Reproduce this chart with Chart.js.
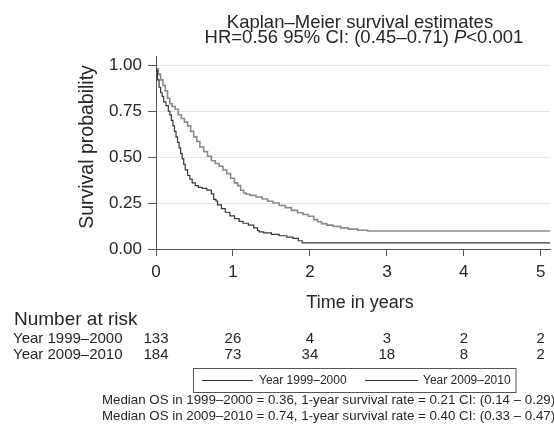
<!DOCTYPE html>
<html>
<head>
<meta charset="utf-8">
<script src="https://cdn.jsdelivr.net/npm/chart.js@4/dist/chart.umd.min.js"></script>
<style>
  body { margin: 0; background: #fff; }
  canvas { display: block; }
</style>
</head>
<body>
<canvas id="kmChart" width="554" height="425"></canvas>
<script>
// survival curves (time in years, survival probability)
const oldYears = [0, 0.02, 0.04, 0.06, 0.08, 0.10, 0.13, 0.16, 0.18, 0.20, 0.22, 0.24, 0.26, 0.28, 0.30, 0.32, 0.34, 0.36, 0.38, 0.41, 0.44, 0.47, 0.51, 0.55, 0.60, 0.66, 0.72, 0.75, 0.78, 0.80, 0.85, 0.90, 0.96, 1.02, 1.08, 1.13, 1.20, 1.27, 1.32, 1.34, 1.40, 1.50, 1.60, 1.70, 1.78, 1.85, 1.90, 1.94, 5.12];
const oldSurv = [1.0, 0.97, 0.92, 0.88, 0.85, 0.83, 0.80, 0.78, 0.75, 0.73, 0.70, 0.67, 0.64, 0.61, 0.58, 0.55, 0.52, 0.49, 0.46, 0.43, 0.40, 0.38, 0.36, 0.345, 0.335, 0.33, 0.32, 0.30, 0.27, 0.26, 0.24, 0.22, 0.20, 0.18, 0.165, 0.15, 0.14, 0.13, 0.115, 0.10, 0.093, 0.088, 0.08, 0.072, 0.065, 0.058, 0.045, 0.033, 0.033];

const newYears = [0, 0.03, 0.06, 0.09, 0.12, 0.15, 0.18, 0.21, 0.25, 0.29, 0.33, 0.37, 0.41, 0.45, 0.49, 0.53, 0.57, 0.62, 0.67, 0.72, 0.77, 0.82, 0.87, 0.92, 0.97, 1.02, 1.06, 1.10, 1.14, 1.17, 1.22, 1.30, 1.38, 1.45, 1.52, 1.60, 1.68, 1.76, 1.84, 1.91, 1.98, 2.05, 2.10, 2.15, 2.22, 2.30, 2.40, 2.50, 2.62, 2.75, 2.95, 5.12];
const newSurv = [1.0, 0.98, 0.95, 0.92, 0.89, 0.86, 0.82, 0.79, 0.775, 0.76, 0.73, 0.71, 0.69, 0.67, 0.64, 0.61, 0.585, 0.555, 0.53, 0.505, 0.48, 0.465, 0.45, 0.43, 0.41, 0.385, 0.36, 0.345, 0.32, 0.305, 0.298, 0.292, 0.283, 0.272, 0.26, 0.25, 0.237, 0.225, 0.21, 0.197, 0.188, 0.178, 0.16, 0.148, 0.138, 0.13, 0.123, 0.115, 0.108, 0.102, 0.098, 0.098];

const xTickValues = [0, 1, 2, 3, 4, 5];
const yTickValues = [0, 0.25, 0.5, 0.75, 1];

const groupNames = ["Year 1999–2000", "Year 2009–2010"];
const riskYears = [0, 1, 2, 3, 4, 5];
const atRiskOld = [133, 26, 4, 3, 2, 2];
const atRiskNew = [184, 73, 34, 18, 8, 2];

const titleLine1 = "Kaplan–Meier survival estimates";
const titleLine2 = ["HR=0.56 95% CI: (0.45–0.71) ", "P", "<0.001"];
const footerLines = [
    "Median OS in 1999–2000 = 0.36, 1-year survival rate = 0.21 CI: (0.14 – 0.29)",
    "Median OS in 2009–2010 = 0.74, 1-year survival rate = 0.40 CI: (0.33 – 0.47)"
];

const textColor = "#262626";
const axisColor = "#555";

const toPoints = function (xs, ys) {
    return xs.map((x, i) => ({ x: x, y: ys[i] }));
};

const font = function (size, style) {
    return (style || "") + " " + size + "px 'Liberation Sans', Arial, sans-serif";
};

const extras = {
    id: "extras",
    afterDraw(chart) {
        const ctx = chart.ctx;
        const xScale = chart.scales.x;
        ctx.save();
        ctx.fillStyle = textColor;
        ctx.textBaseline = "alphabetic";

        // title
        ctx.font = font(18.5);
        ctx.textAlign = "center";
        ctx.fillText(titleLine1, 360, 28);
        ctx.textAlign = "left";
        const w0 = ctx.measureText(titleLine2[0]).width;
        const w2 = ctx.measureText(titleLine2[2]).width;
        ctx.font = font(18.5, "italic");
        const w1 = ctx.measureText(titleLine2[1]).width;
        let x = 364 - (w0 + w1 + w2) / 2;
        ctx.font = font(18.5);
        ctx.fillText(titleLine2[0], x, 43);
        x += w0;
        ctx.font = font(18.5, "italic");
        ctx.fillText(titleLine2[1], x, 43);
        x += w1;
        ctx.font = font(18.5);
        ctx.fillText(titleLine2[2], x, 43);

        // y axis title
        ctx.save();
        ctx.translate(93, 147);
        ctx.rotate(-Math.PI / 2);
        ctx.textAlign = "center";
        ctx.font = font(19.5);
        ctx.fillText("Survival probability", 0, 0);
        ctx.restore();

        // x axis title
        ctx.textAlign = "center";
        ctx.font = font(18);
        ctx.fillText("Time in years", 360, 308);

        // number at risk table
        ctx.textAlign = "left";
        ctx.font = font(19);
        ctx.fillText("Number at risk", 14, 325);
        ctx.font = font(15);
        ctx.fillText(groupNames[0], 13, 343);
        ctx.fillText(groupNames[1], 13, 359);
        ctx.textAlign = "center";
        riskYears.forEach((yr, i) => {
            const px = xScale.getPixelForValue(yr);
            ctx.fillText(String(atRiskOld[i]), px, 343);
            ctx.fillText(String(atRiskNew[i]), px, 359);
        });

        // legend
        ctx.strokeStyle = axisColor;
        ctx.lineWidth = 1;
        ctx.strokeRect(193.5, 368.5, 322.5, 24);
        ctx.strokeStyle = "#333";
        ctx.beginPath();
        ctx.moveTo(202, 380.5);
        ctx.lineTo(253, 380.5);
        ctx.moveTo(365, 380.5);
        ctx.lineTo(418, 380.5);
        ctx.stroke();
        ctx.textAlign = "left";
        ctx.textBaseline = "middle";
        ctx.font = font(12);
        ctx.fillText(groupNames[0], 259, 381);
        ctx.fillText(groupNames[1], 423, 381);

        // footer
        ctx.textBaseline = "alphabetic";
        ctx.font = font(13.3);
        ctx.fillText(footerLines[0], 102, 404);
        ctx.fillText(footerLines[1], 102, 420);

        ctx.restore();
    }
};

new Chart(document.querySelector("#kmChart"), {
    type: "line",
    data: {
        datasets: [
            {
                label: groupNames[0],
                data: toPoints(oldYears, oldSurv),
                borderColor: "#353535",
                borderWidth: 1.2,
                pointRadius: 0,
                stepped: "after",
                fill: false
            },
            {
                label: groupNames[1],
                data: toPoints(newYears, newSurv),
                borderColor: "#8a8a8a",
                borderWidth: 1.6,
                pointRadius: 0,
                stepped: "after",
                fill: false
            }
        ]
    },
    options: {
        responsive: false,
        animation: false,
        events: [],
        layout: { padding: { top: 56, right: 4, left: 0, bottom: 0 } },
        plugins: {
            legend: { display: false },
            title: { display: false },
            tooltip: { enabled: false }
        },
        scales: {
            x: {
                type: "linear",
                min: 0,
                max: 5.12,
                afterFit: (scale) => { scale.height = 176; },
                afterBuildTicks: (scale) => { scale.ticks = xTickValues.map(v => ({ value: v })); },
                grid: { drawOnChartArea: false, tickLength: 7, tickColor: axisColor },
                border: { color: axisColor },
                ticks: {
                    color: textColor,
                    padding: 6,
                    maxRotation: 0,
                    font: { family: "'Liberation Sans', Arial, sans-serif", size: 17 }
                }
            },
            y: {
                min: 0,
                max: 1.05,
                afterFit: (scale) => { scale.width = 156; },
                afterBuildTicks: (scale) => { scale.ticks = yTickValues.map(v => ({ value: v })); },
                grid: {
                    color: (c) => (c.tick && c.tick.value === 0 ? axisColor : "#e6e6e6"),
                    tickLength: 8,
                    tickColor: axisColor
                },
                border: { color: axisColor },
                ticks: {
                    color: textColor,
                    padding: 6,
                    font: { family: "'Liberation Sans', Arial, sans-serif", size: 17 },
                    callback: (v) => Number(v).toFixed(2)
                }
            }
        }
    },
    plugins: [extras]
});
</script>
</body>
</html>
